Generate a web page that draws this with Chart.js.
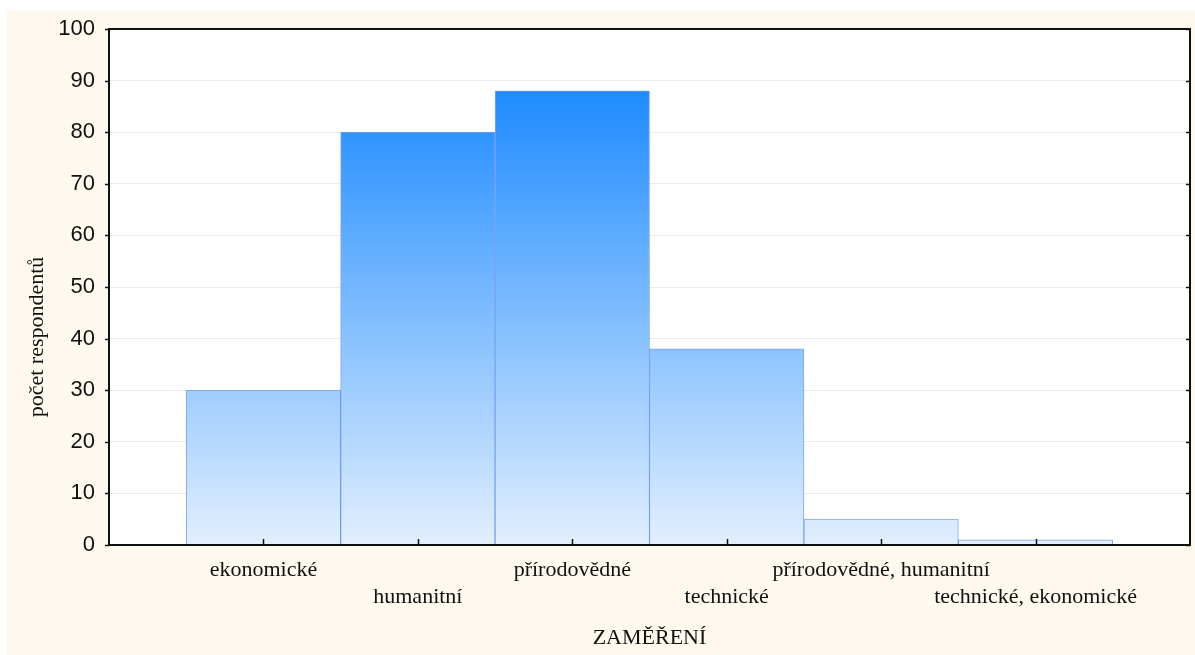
<!DOCTYPE html>
<html lang="cs">
<head>
<meta charset="utf-8">
<script src="https://cdn.jsdelivr.net/npm/chart.js@4.4.1/dist/chart.umd.min.js"></script>
<style>
  html, body { margin: 0; background: #fff; }
  #wrap { position: absolute; left: 7px; top: 10px; width: 1188px; height: 645px; background: #fdf9ef; }
</style>
</head>
<body>
<div id="wrap"><canvas id="chart"></canvas></div>
<script>
// zaměření respondentů a jejich počty
const categories = ["ekonomické", "humanitní", "přírodovědné", "technické", "přírodovědné, humanitní", "technické, ekonomické"];
const counts = [30, 80, 88, 38, 5, 1];
const yMin = 0;
const yMax = 100;
const yStep = 10;
const xTitle = "ZAMĚŘENÍ";
const yTitle = "počet respondentů";

// prázdné sloty na okrajích, aby sloupce začínaly o jednu šířku od osy
const labels = ["", ...categories, ""];
const values = [null, ...counts, null];

const serif = "'Liberation Serif', 'Times New Roman', serif";
const sans = "'Liberation Sans', Arial, sans-serif";
const ink = "#111";

const barFill = (ctx) => {
    const { chart } = ctx;
    if (!chart.chartArea) return "#8ec3ff";
    const y = chart.scales.y;
    const g = chart.ctx.createLinearGradient(0, y.getPixelForValue(0), 0, y.getPixelForValue(Math.max(...counts)));
    g.addColorStop(0, "#e2effe");
    g.addColorStop(1, "#1e8bff");
    return g;
};

// rámeček grafu, značky os a svislý popisek
const frame = {
    id: "frame",
    beforeDraw(chart) {
        const { ctx, chartArea: a } = chart;
        ctx.save();
        ctx.fillStyle = "#fff";
        ctx.fillRect(a.left, a.top, a.right - a.left, a.bottom - a.top);
        ctx.restore();
    },
    afterDraw(chart) {
        const { ctx, chartArea: a, scales } = chart;
        ctx.save();
        ctx.strokeStyle = ink;
        ctx.lineWidth = 2;
        ctx.strokeRect(a.left, a.top, a.right - a.left, a.bottom - a.top);

        ctx.lineWidth = 1.5;
        ctx.beginPath();
        for (let i = 1; i < labels.length - 1; i++) {
            const x = Math.round(scales.x.getPixelForTick(i)) + 0.5;
            ctx.moveTo(x, a.bottom);
            ctx.lineTo(x, a.bottom - 6);
        }
        for (let v = yMin; v <= yMax; v += yStep) {
            const y = Math.round(scales.y.getPixelForValue(v)) + 0.5;
            ctx.moveTo(a.left - 4, y);
            ctx.lineTo(a.left, y);
            ctx.moveTo(a.right, y);
            ctx.lineTo(a.right - 4, y);
        }
        ctx.stroke();

        ctx.fillStyle = ink;
        ctx.font = "22px " + serif;
        ctx.textAlign = "center";
        ctx.textBaseline = "middle";
        ctx.translate(30, 327);
        ctx.rotate(-Math.PI / 2);
        ctx.fillText(yTitle, 0, 0);
        ctx.restore();
    }
};

new Chart(document.getElementById("chart"), {
    type: "bar",
    data: {
        labels,
        datasets: [{
            data: values,
            backgroundColor: barFill,
            borderColor: "rgba(70, 130, 235, 0.7)",
            borderWidth: 1,
            borderSkipped: "bottom",
            barPercentage: 1,
            categoryPercentage: 1
        }]
    },
    options: {
        responsive: true,
        maintainAspectRatio: false,
        animation: false,
        layout: { padding: { top: 19, right: 5, left: 0, bottom: 0 } },
        plugins: {
            legend: { display: false },
            tooltip: { enabled: false }
        },
        scales: {
            x: {
                offset: false,
                // neviditelné značky jen posouvají popisky od osy
                grid: { display: true, drawOnChartArea: false, drawTicks: true, tickLength: 12, tickColor: "transparent" },
                border: { display: false },
                ticks: {
                    autoSkip: false,
                    maxRotation: 0,
                    minRotation: 0,
                    padding: 0,
                    color: ink,
                    font: { family: serif, size: 22, lineHeight: 1.23 },
                    callback: (v, i) => {
                        const t = labels[i];
                        if (!t) return "";
                        return i % 2 === 1 ? t : ["", t];
                    }
                },
                title: {
                    display: true,
                    text: xTitle,
                    color: ink,
                    font: { family: serif, size: 22 },
                    padding: { top: 0, bottom: 4 }
                },
                afterFit: (s) => { s.height = 110; }
            },
            y: {
                min: yMin,
                max: yMax,
                border: { display: false },
                grid: { color: "#ebebeb", lineWidth: 1, tickLength: 14, tickColor: "transparent" },
                ticks: {
                    stepSize: yStep,
                    padding: 0,
                    color: ink,
                    font: { family: sans, size: 22 }
                },
                afterFit: (s) => { s.width = 102; }
            }
        }
    },
    plugins: [frame]
});
</script>
</body>
</html>
